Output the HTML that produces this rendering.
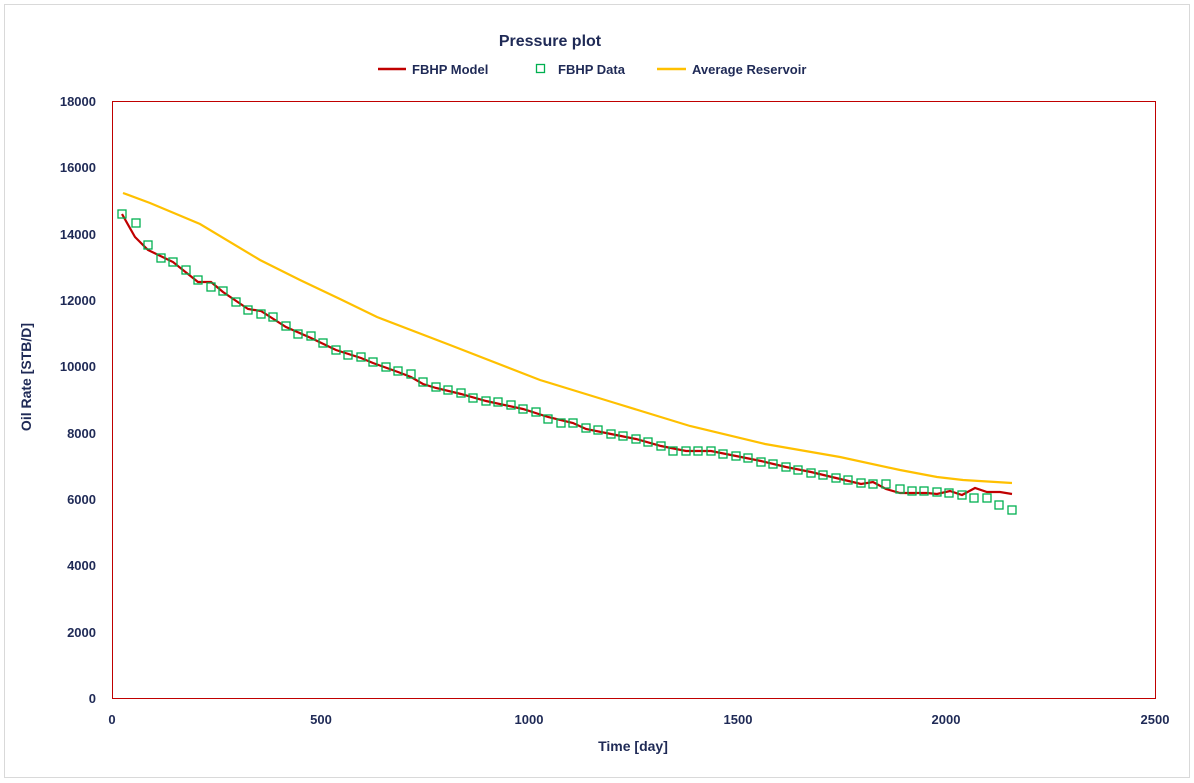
<!DOCTYPE html>
<html><head><meta charset="utf-8"><style>
body{margin:0;background:#fff;}
svg{display:block;font-family:"Liberation Sans",Arial,sans-serif;font-weight:bold;fill:#1f2a56;}
</style></head><body>
<svg width="1194" height="783" xmlns="http://www.w3.org/2000/svg">
<rect x="4.5" y="4.5" width="1185" height="773" fill="#fff" stroke="#d9d9d9"/>
<text x="550" y="46" font-size="16" text-anchor="middle" fill="#1f2a56">Pressure plot</text>
<line x1="378" y1="69" x2="406" y2="69" stroke="#c00000" stroke-width="2.5"/>
<text x="412" y="74" font-size="13" fill="#1f2a56">FBHP Model</text>
<rect x="536.5" y="64.5" width="8" height="8" fill="none" stroke="#00b050" stroke-width="1.3"/>
<text x="558" y="74" font-size="13" fill="#1f2a56">FBHP Data</text>
<line x1="657" y1="69" x2="686" y2="69" stroke="#ffc000" stroke-width="2.5"/>
<text x="692" y="74" font-size="13" fill="#1f2a56">Average Reservoir</text>
<rect x="112.5" y="101.5" width="1043" height="597" fill="none" stroke="#c00000" stroke-width="1"/>
<g font-size="13" text-anchor="end" fill="#1f2a56">
<text x="96" y="703">0</text><text x="96" y="637">2000</text><text x="96" y="570">4000</text>
<text x="96" y="504">6000</text><text x="96" y="438">8000</text><text x="96" y="371">10000</text>
<text x="96" y="305">12000</text><text x="96" y="239">14000</text><text x="96" y="172">16000</text>
<text x="96" y="106">18000</text></g>
<g font-size="13" text-anchor="middle" fill="#1f2a56">
<text x="112" y="724">0</text><text x="321" y="724">500</text><text x="529" y="724">1000</text>
<text x="738" y="724">1500</text><text x="946" y="724">2000</text><text x="1155" y="724">2500</text></g>
<text x="633" y="751" font-size="14" text-anchor="middle" fill="#1f2a56">Time [day]</text>
<text transform="translate(31,377) rotate(-90)" font-size="14" text-anchor="middle" fill="#1f2a56">Oil Rate [STB/D]</text>
<polyline fill="none" stroke="#ffc000" stroke-width="2.2" points="123,193 150,203 200,224 260,260 300,280 340,299 377,317 450,345 540,380 615,403 690,426 765,444 840,457 900,470 937,477 963,480 1012,483"/>
<polyline fill="none" stroke="#c00000" stroke-width="2.2" points="122,214 135,237 148,250 173,262 198,282 211,282 223,292 248,309 261,311 286,327 311,338 336,350 361,358 373,363 398,372 411,377 423,384 436,388 461,394 486,401 523,409 548,417 573,423 586,429 611,434 636,439 661,446 686,451 711,451 736,456 761,461 786,467 811,472 836,478 861,484 873,482 886,489 900,493 927,493 937,494 950,491 962,495 975,488 987,492 1000,492 1012,494"/>
<g fill="none" stroke="#00b050" stroke-width="1.3">
<rect x="118" y="210" width="8" height="8"/><rect x="132" y="219" width="8" height="8"/><rect x="144" y="241" width="8" height="8"/><rect x="157" y="254" width="8" height="8"/><rect x="169" y="258" width="8" height="8"/><rect x="182" y="266" width="8" height="8"/><rect x="194" y="276" width="8" height="8"/><rect x="207" y="283" width="8" height="8"/><rect x="219" y="287" width="8" height="8"/><rect x="232" y="298" width="8" height="8"/><rect x="244" y="306" width="8" height="8"/><rect x="257" y="310" width="8" height="8"/><rect x="269" y="313" width="8" height="8"/><rect x="282" y="322" width="8" height="8"/><rect x="294" y="330" width="8" height="8"/><rect x="307" y="332" width="8" height="8"/><rect x="319" y="339" width="8" height="8"/><rect x="332" y="346" width="8" height="8"/><rect x="344" y="351" width="8" height="8"/><rect x="357" y="353" width="8" height="8"/><rect x="369" y="358" width="8" height="8"/><rect x="382" y="363" width="8" height="8"/><rect x="394" y="367" width="8" height="8"/><rect x="407" y="370" width="8" height="8"/><rect x="419" y="378" width="8" height="8"/><rect x="432" y="383" width="8" height="8"/><rect x="444" y="386" width="8" height="8"/><rect x="457" y="389" width="8" height="8"/><rect x="469" y="394" width="8" height="8"/><rect x="482" y="397" width="8" height="8"/><rect x="494" y="398" width="8" height="8"/><rect x="507" y="401" width="8" height="8"/><rect x="519" y="405" width="8" height="8"/><rect x="532" y="408" width="8" height="8"/><rect x="544" y="415" width="8" height="8"/><rect x="557" y="419" width="8" height="8"/><rect x="569" y="419" width="8" height="8"/><rect x="582" y="424" width="8" height="8"/><rect x="594" y="426" width="8" height="8"/><rect x="607" y="430" width="8" height="8"/><rect x="619" y="432" width="8" height="8"/><rect x="632" y="435" width="8" height="8"/><rect x="644" y="438" width="8" height="8"/><rect x="657" y="442" width="8" height="8"/><rect x="669" y="447" width="8" height="8"/><rect x="682" y="447" width="8" height="8"/><rect x="694" y="447" width="8" height="8"/><rect x="707" y="447" width="8" height="8"/><rect x="719" y="450" width="8" height="8"/><rect x="732" y="452" width="8" height="8"/><rect x="744" y="454" width="8" height="8"/><rect x="757" y="458" width="8" height="8"/><rect x="769" y="460" width="8" height="8"/><rect x="782" y="463" width="8" height="8"/><rect x="794" y="466" width="8" height="8"/><rect x="807" y="469" width="8" height="8"/><rect x="819" y="471" width="8" height="8"/><rect x="832" y="474" width="8" height="8"/><rect x="844" y="476" width="8" height="8"/><rect x="857" y="479" width="8" height="8"/><rect x="869" y="480" width="8" height="8"/><rect x="882" y="480" width="8" height="8"/><rect x="896" y="485" width="8" height="8"/><rect x="908" y="487" width="8" height="8"/><rect x="920" y="487" width="8" height="8"/><rect x="933" y="488" width="8" height="8"/><rect x="945" y="489" width="8" height="8"/><rect x="958" y="491" width="8" height="8"/><rect x="970" y="494" width="8" height="8"/><rect x="983" y="494" width="8" height="8"/><rect x="995" y="501" width="8" height="8"/><rect x="1008" y="506" width="8" height="8"/>
</g>
</svg>
</body></html>
